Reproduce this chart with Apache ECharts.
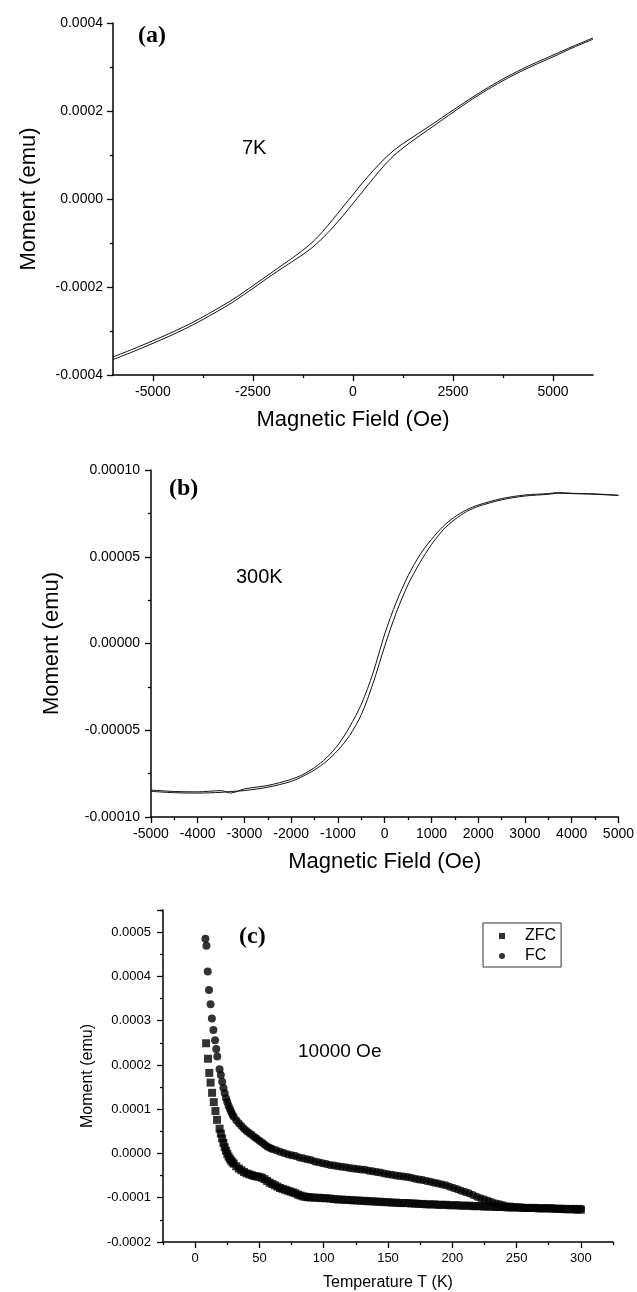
<!DOCTYPE html>
<html>
<head>
<meta charset="utf-8">
<script src="https://cdn.jsdelivr.net/npm/echarts/dist/echarts.min.js"></script>
<style>
  html, body { margin: 0; padding: 0; background: #fff; }
  #chart { width: 637px; height: 1292px; }
</style>
</head>
<body>
<div id="chart"></div>
<script>
// (a) 7K loop
var fieldA = [-6000, -5500, -5000, -4500, -4000, -3500, -3000, -2500, -2000, -1500, -1250, -1000, -750, -500, -250, 0,
  250, 500, 750, 1000, 1250, 1500, 2000, 2500, 3000, 3500, 4000, 4500, 5000, 5500, 6000];
var momentADown = [-0.000359, -0.000341, -0.000322, -0.000302, -0.000280, -0.000255, -0.000228, -0.000197, -0.000165,
  -0.000133, -0.000116, -0.000097, -0.000073, -0.000046, -0.000018, 0.000010, 0.000038, 0.000064, 0.000088,
  0.000109, 0.000126, 0.000141, 0.000171, 0.000202, 0.000232, 0.000260, 0.000285, 0.000307, 0.000327,
  0.000347, 0.000366];
var momentAUp = [-0.000365, -0.000347, -0.000328, -0.000308, -0.000286, -0.000261, -0.000234, -0.000203, -0.000171,
  -0.000141, -0.000126, -0.000109, -0.000088, -0.000064, -0.000038, -0.000010, 0.000018, 0.000046, 0.000073,
  0.000097, 0.000116, 0.000133, 0.000165, 0.000197, 0.000228, 0.000256, 0.000281, 0.000303, 0.000323,
  0.000344, 0.000363];
var fieldATicks = [-5000, -2500, 0, 2500, 5000];
var fieldAMinor = [-3750, -1250, 1250, 3750];

// (b) 300K loop
var fieldB = [5000, 4500, 4000, 3700, 3500, 3000, 2500, 2000, 1750, 1500, 1250, 1000, 750, 500, 250, 0,
  -250, -500, -750, -1000, -1250, -1500, -1750, -2000, -2500, -3000, -3300, -3500, -4000, -4500, -5000];
var momentBDown = [0.0000855, 0.0000862, 0.0000866, 0.0000870, 0.0000864, 0.0000856, 0.0000835, 0.0000798,
  0.0000770, 0.0000730, 0.0000675, 0.0000600, 0.0000510, 0.0000390, 0.0000240, 0.0000055, -0.0000170,
  -0.0000350, -0.0000480, -0.0000585, -0.0000660, -0.0000715, -0.0000755, -0.0000783, -0.0000818,
  -0.0000838, -0.0000862, -0.0000848, -0.0000855, -0.0000853, -0.0000845];
var momentBUp = [0.0000853, 0.0000860, 0.0000864, 0.0000866, 0.0000860, 0.0000850, 0.0000828, 0.0000790,
  0.0000760, 0.0000715, 0.0000655, 0.0000570, 0.0000465, 0.0000340, 0.0000180, -0.0000015, -0.0000230,
  -0.0000410, -0.0000530, -0.0000615, -0.0000680, -0.0000728, -0.0000765, -0.0000795, -0.0000828,
  -0.0000848, -0.0000853, -0.0000858, -0.0000862, -0.0000860, -0.0000852];

// (c) ZFC / FC at 10000 Oe
var tempZfc = [8.5, 10, 11, 12, 13.2, 14.5, 15.8, 17, 19, 20, 21, 22, 23, 24, 25, 26, 27, 28, 29, 30, 32, 34, 36,
  38, 40, 42, 44, 46, 48, 50, 52, 54, 56, 58, 60, 62, 64, 66, 68, 70, 72, 74, 76, 78, 80, 82, 84, 86, 88, 90,
  93, 96, 99, 102, 105, 108, 111, 114, 117, 120, 123, 126, 129, 132, 135, 138, 141, 144, 147, 150, 153, 156,
  159, 162, 165, 168, 171, 174, 177, 180, 183, 186, 189, 192, 195, 198, 201, 204, 207, 210, 213, 216, 219,
  222, 225, 228, 231, 234, 237, 240, 243, 246, 249, 252, 255, 258, 261, 264, 267, 270, 273, 276, 279, 282,
  285, 288, 291, 294, 297, 300];
var momentZfc = [0.000249, 0.000214, 0.000182, 0.000160, 0.000137, 0.000116, 0.000096, 0.000076, 0.000056,
  0.000045, 0.000034, 0.000024, 0.000014, 0.000006, -0.000001, -0.000007, -0.000012, -0.000016, -0.000020,
  -0.000023, -0.000029, -0.000034, -0.000038, -0.000042, -0.000045, -0.000047, -0.000049, -0.000051,
  -0.000052, -0.000053, -0.000055, -0.000058, -0.000062, -0.000066, -0.000069, -0.000072, -0.000075,
  -0.000078, -0.000080, -0.000082, -0.000084, -0.000086, -0.000088, -0.000090, -0.000093, -0.000095,
  -0.000097, -0.000098, -0.000099, -0.000099, -0.000100, -0.000100, -0.000101, -0.000101, -0.000102,
  -0.000103, -0.000104, -0.000104, -0.000105, -0.000105, -0.000106, -0.000106, -0.000107, -0.000107,
  -0.000108, -0.000108, -0.000109, -0.000109, -0.000110, -0.000110, -0.000111, -0.000111, -0.000112,
  -0.000112, -0.000112, -0.000113, -0.000113, -0.000114, -0.000114, -0.000115, -0.000115, -0.000115,
  -0.000116, -0.000116, -0.000116, -0.000117, -0.000117, -0.000117, -0.000118, -0.000118, -0.000118,
  -0.000119, -0.000119, -0.000119, -0.000120, -0.000120, -0.000120, -0.000121, -0.000121, -0.000121,
  -0.000122, -0.000122, -0.000122, -0.000122, -0.000123, -0.000123, -0.000123, -0.000123, -0.000124,
  -0.000124, -0.000124, -0.000124, -0.000125, -0.000125, -0.000125, -0.000126, -0.000126, -0.000126,
  -0.000127, -0.000127];
var tempFc = [8, 8.8, 9.8, 10.8, 12, 13, 14.2, 15.5, 16.4, 17.2, 19, 20, 21, 22, 23, 24, 25, 26, 27, 28, 29, 30,
  32, 34, 36, 38, 40, 42, 44, 46, 48, 50, 52, 54, 56, 58, 60, 63, 66, 69, 72, 75, 78, 81, 84, 87, 90, 93, 96,
  99, 102, 105, 108, 111, 114, 117, 120, 123, 126, 129, 132, 135, 138, 141, 144, 147, 150, 153, 156, 159,
  162, 165, 168, 171, 174, 177, 180, 183, 186, 189, 192, 195, 198, 201, 204, 207, 210, 213, 216, 219, 222,
  225, 228, 231, 234, 237, 240, 243, 246, 249, 252, 255, 258, 261, 264, 267, 270, 273, 276, 279, 282, 285,
  288, 291, 294, 297, 300];
var momentFc = [0.000485, 0.000469, 0.000411, 0.000369, 0.000337, 0.000305, 0.000279, 0.000256, 0.000236,
  0.000219, 0.000190, 0.000177, 0.000162, 0.000148, 0.000136, 0.000125, 0.000116, 0.000108, 0.000101,
  0.000094, 0.000088, 0.000083, 0.000075, 0.000068, 0.000062, 0.000056, 0.000051, 0.000046, 0.000042,
  0.000037, 0.000033, 0.000029, 0.000025, 0.000020, 0.000016, 0.000013, 0.000010, 0.000007, 0.000004,
  0.000001, -0.000002, -0.000004, -0.000006, -0.000009, -0.000011, -0.000013, -0.000015, -0.000018,
  -0.000020, -0.000022, -0.000024, -0.000026, -0.000027, -0.000029, -0.000030, -0.000031, -0.000033,
  -0.000034, -0.000035, -0.000036, -0.000037, -0.000039, -0.000040, -0.000042, -0.000043, -0.000045,
  -0.000047, -0.000048, -0.000050, -0.000051, -0.000052, -0.000053, -0.000055, -0.000057, -0.000059,
  -0.000060, -0.000062, -0.000064, -0.000066, -0.000068, -0.000070, -0.000072, -0.000075, -0.000078,
  -0.000081, -0.000084, -0.000087, -0.000090, -0.000094, -0.000098, -0.000101, -0.000104, -0.000107,
  -0.000110, -0.000113, -0.000115, -0.000117, -0.000119, -0.000120, -0.000121, -0.000122, -0.000122,
  -0.000123, -0.000123, -0.000123, -0.000124, -0.000124, -0.000124, -0.000124, -0.000124, -0.000125,
  -0.000125, -0.000125, -0.000125, -0.000125, -0.000125, -0.000125];
var tempTicks = [0, 50, 100, 150, 200, 250, 300];
var tempMinor = [-25, 25, 75, 125, 175, 225, 275, 325];

function pairs(xs, ys) {
  return xs.map(function (x, i) { return [x, ys[i]]; });
}
function fixed(digits) {
  return function (v) {
    if (Math.abs(v) < 1e-12) v = 0;
    return v.toFixed(digits);
  };
}
function plain(v) {
  return String(Math.round(v));
}

var black = '#000';
var axisLine = { show: true, onZero: false, lineStyle: { color: black, width: 1.5 } };
var tickLine = { color: black, width: 1.3 };
var labelFont = { color: black, fontFamily: 'Liberation Sans' };

function xMain(grid, min, max, ticks, name, nameSize, labelSize, gap) {
  return {
    type: 'value', gridIndex: grid, min: min, max: max, position: 'bottom',
    axisLine: axisLine,
    axisTick: { show: true, customValues: ticks, length: 6, lineStyle: tickLine },
    axisLabel: Object.assign({ customValues: ticks, margin: 10, fontSize: labelSize, formatter: plain }, labelFont),
    splitLine: { show: false },
    name: name, nameLocation: 'middle', nameGap: gap,
    nameTextStyle: Object.assign({ fontSize: nameSize }, labelFont)
  };
}
function xMinor(grid, min, max, ticks) {
  return {
    type: 'value', gridIndex: grid, min: min, max: max, position: 'bottom',
    axisLine: { show: false, onZero: false },
    axisTick: { show: true, customValues: ticks, length: 3, lineStyle: tickLine },
    axisLabel: { show: false },
    splitLine: { show: false }
  };
}

var chart = echarts.init(document.getElementById('chart'));
chart.setOption({
  animation: false,
  backgroundColor: '#fff',
  textStyle: { fontFamily: 'Liberation Sans' },
  grid: [
    { left: 113, top: 23, width: 480, height: 352 },
    { left: 151, top: 470, width: 471, height: 347 },
    { left: 163, top: 910, width: 450, height: 332 }
  ],
  xAxis: [
    xMain(0, -6000, 6000, fieldATicks, 'Magnetic Field (Oe)', 22, 14, 34),
    xMinor(0, -6000, 6000, fieldAMinor),
    {
      type: 'value', gridIndex: 1, min: -5000, max: 5000, interval: 1000, position: 'bottom',
      axisLine: axisLine,
      axisTick: { show: true, length: 6, lineStyle: tickLine },
      minorTick: { show: true, splitNumber: 2, length: 3, lineStyle: tickLine },
      axisLabel: Object.assign({ margin: 10, fontSize: 14, formatter: plain }, labelFont),
      splitLine: { show: false },
      name: 'Magnetic Field (Oe)', nameLocation: 'middle', nameGap: 34,
      nameTextStyle: Object.assign({ fontSize: 22 }, labelFont)
    },
    xMain(2, -25, 325, tempTicks, 'Temperature T (K)', 16, 13, 33),
    xMinor(2, -25, 325, tempMinor)
  ],
  yAxis: [
    {
      type: 'value', gridIndex: 0, min: -0.0004, max: 0.0004, interval: 0.0002,
      axisLine: axisLine,
      axisTick: { show: true, length: 6, lineStyle: tickLine },
      minorTick: { show: true, splitNumber: 2, length: 3, lineStyle: tickLine },
      axisLabel: Object.assign({ margin: 10, fontSize: 14, formatter: fixed(4) }, labelFont),
      splitLine: { show: false },
      name: 'Moment (emu)', nameLocation: 'middle', nameGap: 73,
      nameTextStyle: Object.assign({ fontSize: 22 }, labelFont)
    },
    {
      type: 'value', gridIndex: 1, min: -0.0001, max: 0.0001, interval: 0.00005,
      axisLine: axisLine,
      axisTick: { show: true, length: 6, lineStyle: tickLine },
      minorTick: { show: true, splitNumber: 2, length: 3, lineStyle: tickLine },
      axisLabel: Object.assign({ margin: 11, fontSize: 14, formatter: fixed(5) }, labelFont),
      splitLine: { show: false },
      name: 'Moment (emu)', nameLocation: 'middle', nameGap: 88,
      nameTextStyle: Object.assign({ fontSize: 22 }, labelFont)
    },
    {
      type: 'value', gridIndex: 2, min: -0.0002, max: 0.00055, interval: 0.0001,
      axisLine: axisLine,
      axisTick: { show: true, length: 6, lineStyle: tickLine },
      minorTick: { show: true, splitNumber: 2, length: 3, lineStyle: tickLine },
      axisLabel: Object.assign({ margin: 12, fontSize: 13, formatter: fixed(4), showMaxLabel: false }, labelFont),
      splitLine: { show: false },
      name: 'Moment (emu)', nameLocation: 'middle', nameGap: 66,
      nameTextStyle: Object.assign({ fontSize: 16 }, labelFont)
    }
  ],
  legend: {
    left: 483, top: 923,
    orient: 'vertical',
    selectedMode: false,
    itemWidth: 6, itemHeight: 6, itemGap: 4,
    padding: [5, 5, 3, 16],
    borderColor: '#333', borderWidth: 1,
    backgroundColor: '#fff',
    textStyle: { color: black, fontSize: 16, fontFamily: 'Liberation Sans', padding: [0, 0, 0, 15] },
    data: [{ name: 'ZFC', icon: 'rect' }, { name: 'FC', icon: 'circle' }]
  },
  graphic: [
    { type: 'text', left: 138, top: 24, style: { text: '(a)', font: 'bold 24px "Liberation Serif"', fill: black } },
    { type: 'text', left: 242, top: 138, style: { text: '7K', font: '20px "Liberation Sans"', fill: black } },
    { type: 'text', left: 169, top: 477, style: { text: '(b)', font: 'bold 24px "Liberation Serif"', fill: black } },
    { type: 'text', left: 236, top: 567, style: { text: '300K', font: '20px "Liberation Sans"', fill: black } },
    { type: 'text', left: 239, top: 925, style: { text: '(c)', font: 'bold 24px "Liberation Serif"', fill: black } },
    { type: 'text', left: 298, top: 1042, style: { text: '10000 Oe', font: '19px "Liberation Sans"', fill: black } }
  ],
  series: [
    {
      name: '7K down', type: 'line', xAxisIndex: 0, yAxisIndex: 0, data: pairs(fieldA, momentADown),
      showSymbol: false, smooth: 0.3, lineStyle: { color: '#111', width: 1 }
    },
    {
      name: '7K up', type: 'line', xAxisIndex: 0, yAxisIndex: 0, data: pairs(fieldA, momentAUp),
      showSymbol: false, smooth: 0.3, lineStyle: { color: '#111', width: 1 }
    },
    {
      name: '300K down', type: 'line', xAxisIndex: 2, yAxisIndex: 1, data: pairs(fieldB, momentBDown),
      showSymbol: false, smooth: 0.3, lineStyle: { color: '#111', width: 1 }
    },
    {
      name: '300K up', type: 'line', xAxisIndex: 2, yAxisIndex: 1, data: pairs(fieldB, momentBUp),
      showSymbol: false, smooth: 0.3, lineStyle: { color: '#111', width: 1 }
    },
    {
      name: 'ZFC', type: 'scatter', xAxisIndex: 3, yAxisIndex: 2, data: pairs(tempZfc, momentZfc),
      symbol: 'rect', symbolSize: 8, itemStyle: { color: black }
    },
    {
      name: 'FC', type: 'scatter', xAxisIndex: 3, yAxisIndex: 2, data: pairs(tempFc, momentFc),
      symbol: 'circle', symbolSize: 8, itemStyle: { color: black }
    }
  ]
});
</script>
</body>
</html>
